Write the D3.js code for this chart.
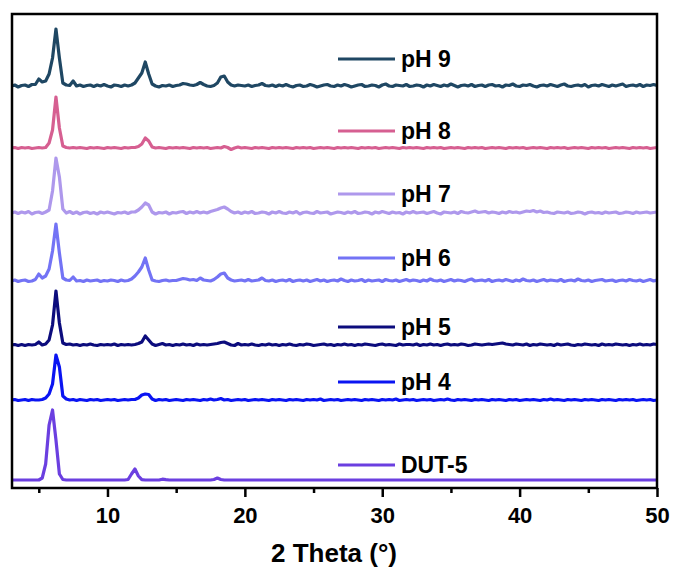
<!DOCTYPE html>
<html>
<head>
<meta charset="utf-8">
<script src="https://cdn.jsdelivr.net/npm/d3@7"></script>
<style>
  body { margin: 0; background: #fff; }
  text { font-family: "Liberation Sans", Arial, sans-serif; font-weight: 700; }
</style>
</head>
<body>
<div id="xrd-chart"></div>
<script>
// 2 theta grid of the patterns (degrees)
const thetaStart = 3;
const thetaStep = 0.25;

const seriesNames = ["pH 9", "pH 8", "pH 7", "pH 6", "pH 5", "pH 4", "DUT-5"];
const seriesColors = ["#1f4763", "#d65f91", "#ae98ec", "#7373f5", "#0c0c7d", "#0a14f2", "#6b3fe0"];
// vertical stacking offset of every pattern (a.u.)
const seriesOffsets = [402, 340, 275, 207, 143, 88, 8];

// intensities (a.u.), one value per 0.25 deg from 3 to 50
const ph9 = [
  0, 1, -1, 0.5, 1, -0.5, 1.5, 1.5, 7, 4, 5, 12, 28, 57, 28, 3, 1, 0.5, 5, 0,
  1, -0.5, 0.5, 1, -0.5, 1, 0, 1.5, 0, -1, 1, 0.5, -0.5, 1, 0, 1, 3, 8, 13, 24,
  12, 2, 0, -1, 0.5, 0, 1, -0.5, 0.5, 1, 2.5, 2, 1, 0.5, 1.5, 3.5, 1.5, 0, -0.5, 0.5,
  3, 9, 10, 4, 1, 0, 1, 0.5, 0, 1, -0.5, 0.5, 1, 2.5, 0.5, 0, 1, -0.5, 1, 0,
  1.5, 0, -1, 0.5, 1, -0.5, 0, 1.5, 0.5, -1, 0, 1, 1.5, 0, -0.5, 1, 0, 1.5, 0.5, -1,
  0, 1, 1.5, -0.5, 0, 1, 0.5, -1, 1, 2, 0, -0.5, 1, 0.5, 0, 1.5, -0.5, 0, 1, 0.5,
  -1, 1, 0, 1.5, 0.5, -0.5, 1, 0, 2, 0.5, -1, 0.5, 1, 0, 1.5, -0.5, 0.5, 1, -0.5, 1,
  1.5, 0, 0.5, -1, 1, 0.5, 2, 0, -0.5, 1, 0.5, 1.5, 0, -1, 0.5, 1, 0, 1.5, 0.5, -0.5,
  1, 2, 0, -0.5, 0.5, 1, 0, 1.5, -1, 0.5, 1, 0, 1.5, 0.5, -0.5, 1, 0, 1, 2, -0.5,
  0.5, 1, 0, 1.5, -0.5, 1, 0.5, 1.5, 0.5
];
const ph8 = [
  0, 0.5, -0.5, 0.5, 0, 0.5, -0.5, 0, 0.5, 0, 0.5, 5, 18, 51, 20, 2, 0.5, 0, 0.5, 0,
  0.5, 0, -0.5, 0.5, 0, 0.5, 0, -0.5, 0.5, 0, 0.5, 0, -0.5, 0.5, 0, 0.5, 0.5, 1.5, 4, 10,
  7, 1, 0, 0.5, 0, -0.5, 0.5, 0, 0.5, 0, 0.5, 0, -0.5, 0.5, 0, 0.5, 0, 0.5, -0.5, 0,
  0.5, 0, 1.5, 0.5, -1.5, 0, 1, 0, 0.5, 0, -0.5, 0.5, 0, 0.5, 0, -0.5, 0.5, 0, 0.5, 0,
  0.5, 0, -0.5, 0.5, 0, 0.5, 0, 0.5, -0.5, 0, 0.5, 0, 0.5, 0, -0.5, 0.5, 0, 0.5, 0, 0.5,
  0, -0.5, 0.5, 0, 0.5, 0, 0.5, -0.5, 0, 0.5, 0, 0.5, 0, -0.5, 0.5, 0, 0.5, 0, 0.5, 0,
  -0.5, 0.5, 0, 0.5, 0, 0.5, -0.5, 0, 0.5, 0, 0.5, 0, -0.5, 0.5, 0, 0.5, 0, 0.5, -0.5, 0,
  0.5, 0, 0.5, 0, -0.5, 0.5, 0, 0.5, 0, 0.5, -0.5, 0, 0.5, 0, 0.5, 0, -0.5, 0.5, 0, 0.5,
  0, 0.5, -0.5, 0, 0.5, 0, 0.5, 0, -0.5, 0.5, 0, 0.5, 0, 0.5, -0.5, 0, 0.5, 0, 0.5, 0,
  -0.5, 0.5, 0, 0.5, 0, 0.5, -0.5, 0, 0.5
];
const ph7 = [
  0, 1, -0.5, 1, 0, 1.5, -1, 0.5, 1, -0.5, 1, 3, 22, 55, 36, 4, 0, 1.5, -0.5, 1,
  -1, 0.5, 1, -0.5, 0.5, -1, 1, 0, 1, 0, -1, 0.5, 0, 1, -0.5, 1, 1, 3, 6, 10,
  8, 1, -1, 0.5, 0, 1, -1, 0.5, 0, 1, 1.5, -0.5, 1, 0, 1.5, 0, 1, 0, 1.5, 2.5,
  3.5, 5, 6, 4, 1.5, 0, 1, -0.5, 1, 0, 1.5, -0.5, 0, 1, 0.5, -1, 1, 0, 1.5, 0,
  -0.5, 1, 0, 1.5, -1, 0.5, 1, 0, -0.5, 1.5, 0, 0.5, 1, -1, 0, 1, 0.5, -0.5, 1, 0,
  1.5, -0.5, 0, 1, 0.5, -1, 1, 0, 1.5, 0.5, -0.5, 1, 0, 0.5, -1, 1, 0, 1.5, 0, 0.5,
  1, -0.5, 0.5, 1.5, 0, -1, 1, 0.5, 0, 1, -0.5, 1.5, 0.5, 0, 1, 2, 0.5, 1, 1.5, 0,
  1, 0.5, -0.5, 1, 0, 1.5, 0.5, 1, 0, 1, 2, 1.5, 2.5, 1, 2, 0.5, 1, 0, -0.5, 1,
  0.5, 0, 1, -0.5, 0, 1, 0.5, -1, 0.5, 1, 0, 0.5, -0.5, 1, 0, 0.5, 1, -0.5, 0, 1,
  0.5, -0.5, 1, 0, 0.5, 1, 0, 0.5, 1
];
const ph6 = [
  0, 1, -0.5, 0.5, 1, -0.5, 0, 1.5, 7, 3, 5, 12, 30, 57, 28, 3, 1, 0.5, 4, 0,
  0.5, -0.5, 1, 0, 0.5, 1, -0.5, 0.5, 0, 1, 0.5, -0.5, 1, 0, 0.5, 2, 5, 9, 14, 23,
  11, 1, 0, -0.5, 0.5, 1, 0, 0.5, 0.5, 1.5, 2.5, 2, 1, 1.5, 0.5, 3, 1, 0.5, 0, 1.5,
  4, 7, 8, 3, 1, 0, 0.5, 1, 0, 1.5, 0, 0.5, 1, 3, 0.5, 0, 1, -0.5, 0.5, 1,
  0, 1.5, -0.5, 0.5, 1, 0, 1, -0.5, 0.5, 1.5, 0, 1, -0.5, 0.5, 1, 0, 2, 0.5, -0.5, 1,
  0, 0.5, 1.5, -0.5, 1, 0, 0.5, 1, -0.5, 1.5, 0.5, 0, 1, -0.5, 0.5, 1.5, 0, 1, 0.5, -0.5,
  1, 0, 2, 0.5, 0, 1, -0.5, 0.5, 1.5, 0, 1, 0.5, -0.5, 1, 2, 0, 0.5, 1, 0, 1.5,
  -0.5, 0.5, 1, 0, 1.5, 0.5, -0.5, 1, 0, 2, 0.5, 0, 1, -0.5, 0.5, 1.5, 0, 1, 0.5, 0,
  1.5, -0.5, 0.5, 1, 0, 2, 0.5, 0, 1, -0.5, 0.5, 1, 1.5, 0, 0.5, 1, -0.5, 0.5, 1, 0,
  1.5, 0.5, 0, 1, -0.5, 0.5, 1.5, 0, 1
];
const ph5 = [
  0, 0.5, -0.5, 0.5, -0.5, 0.5, 0, 0.5, 3, 0, 1, 5, 20, 54, 22, 2, 0.5, 1, 0, 0.5,
  -0.5, 0.5, 0, 1, 0, -0.5, 0.5, 0, 0.5, 0, 1, -0.5, 0.5, 0, 0.5, 0, 0.5, 1.5, 3, 9,
  5, 1, -0.5, 0.5, 1.5, 0, 0.5, -0.5, 0.5, 0, 1, 0, 0.5, -0.5, 1, 0, 0.5, 0, 0.5, 1,
  1.5, 2.5, 3, 1.5, 0, -0.5, 1.5, 0, 0.5, 0, 1, 0, -0.5, 0.5, 0, 1, 0, 0.5, -0.5, 0.5,
  0, 1, 0, -0.5, 0.5, 0, 1, 0.5, -0.5, 0, 0.5, 1, 0, 0.5, -0.5, 0.5, 0, 1, 0, 0.5,
  -0.5, 0.5, 0, 1, 0.5, 0, -0.5, 0.5, 1, 0, 0.5, 0, -0.5, 1, 0, 0.5, 0.5, 0, 1, -0.5,
  0.5, 0, 1, 0, 0.5, -0.5, 0.5, 1, 0, 0.5, 0, 1, 0.5, -0.5, 0, 1, 0.5, 0, 0.5, 1,
  0.5, 1, 1.5, 2, 1, 0.5, 0, 1, 0.5, 0, 1, -0.5, 0.5, 0, 1, 0.5, 0, 0.5, -0.5, 1,
  0, 0.5, 1, 0, -0.5, 0.5, 0, 1, 0.5, 0, 0.5, -0.5, 1, 0, 0.5, 0, 1, 0.5, 0, 0.5,
  -0.5, 0.5, 0, 1, 0, 0.5, 0, 1, 0.5
];
const ph4 = [
  0, 0.5, -0.5, 0, 0.5, -0.5, 0.5, 0, 0, 0.5, 2, 6, 16, 45, 33, 4, 1, 0, 0.5, -0.5,
  0.5, 0, -0.5, 0.5, 0, 0.5, -0.5, 0, 0.5, 0, 0.5, -0.5, 0, 0.5, 0, 0.5, 0.5, 2, 5, 6,
  5.5, 1, -0.5, 0.5, 0, 0.5, -0.5, 0, 0.5, 0, -0.5, 0.5, 0, 0.5, 0, -0.5, 0.5, 0, 1, 0,
  0.5, 1.5, 0, 0.5, -0.5, 0, 0.5, 0, 0.5, -0.5, 0, 0.5, 0, 0.5, 0, -0.5, 0.5, 0, 0.5, 0,
  -0.5, 0.5, 0, 0.5, 0, -0.5, 0.5, 0, 0.5, 0, 1, -0.5, 0, 0.5, 0, 0.5, -0.5, 0, 0.5, 0,
  0.5, 0, -0.5, 0.5, 0, 0.5, 0, -0.5, 0.5, 0, 0.5, 0, 1, -0.5, 0, 0.5, 0, 0.5, -0.5, 0,
  0.5, 0, 0.5, -0.5, 0, 0.5, 0, 1, 0, -0.5, 0.5, 0, 0.5, 0, -0.5, 0.5, 0, 0.5, 0, -0.5,
  0.5, 0, 0.5, 0, -0.5, 0.5, 0, 0.5, -0.5, 0, 0.5, 0, 0.5, 0, -0.5, 0.5, 0, 1, 0, 0.5,
  0, -0.5, 0.5, 0, 0.5, 0, -0.5, 0.5, 0, 0.5, 0, -0.5, 0.5, 0, 0.5, 0, -0.5, 0.5, 0, 0.5,
  0, 0.5, -0.5, 0, 0.5, 0, 0.5, -0.5, 0
];
const dut5 = [
  0, 0, 0, 0, 0, 0, 0, 0, 0, 2, 16, 55, 70, 40, 6, 0.5, 0, 0, 0, 0,
  0, 0, 0, 0, 0, 0, 0, 0, 0, 0, 0, 0, 0, 0, 0.5, 6, 11, 4, 0.3, 0,
  0, 0, 0, 0, 0.8, 0.3, 0, 0, 0, 0, 0, 0, 0, 0, 0, 0, 0, 0, 0, 0.5,
  2, 0.5, 0, 0, 0, 0, 0, 0, 0, 0, 0, 0, 0, 0, 0, 0, 0, 0, 0, 0,
  0, 0, 0, 0, 0, 0, 0, 0, 0, 0, 0, 0, 0, 0, 0, 0, 0, 0, 0, 0,
  0, 0, 0, 0, 0, 0, 0, 0, 0, 0, 0, 0, 0, 0, 0, 0, 0, 0, 0, 0,
  0, 0, 0, 0, 0, 0, 0, 0, 0, 0, 0, 0, 0, 0, 0, 0, 0, 0, 0, 0,
  0, 0, 0, 0, 0, 0, 0, 0, 0, 0, 0, 0, 0, 0, 0, 0, 0, 0, 0, 0,
  0, 0, 0, 0, 0, 0, 0, 0, 0, 0, 0, 0, 0, 0, 0, 0, 0, 0, 0, 0,
  0, 0, 0, 0, 0, 0, 0, 0, 0
];
const seriesValues = [ph9, ph8, ph7, ph6, ph5, ph4, dut5];

const majorTicks = [10, 20, 30, 40, 50];
const minorTicks = [5, 15, 25, 35, 45];
const xTitle = "2 Theta (°)";

// ---- layout ----
const width = 676;
const height = 572;
const plot = { left: 12, right: 657, top: 14, bottom: 488 };
// legend line heights, placed next to each pattern
const legendY = [59, 131, 194, 258, 327, 382, 465];

const svg = d3
  .select("#xrd-chart")
  .append("svg")
  .attr("width", width)
  .attr("height", height)
  .attr("viewBox", [0, 0, width, height]);

const x = d3.scaleLinear().domain([3.05, 50]).range([plot.left, plot.right]);
const y = d3
  .scaleLinear()
  .domain([0, plot.bottom - plot.top])
  .range([plot.bottom, plot.top]);

svg
  .append("clipPath")
  .attr("id", "plot-clip")
  .append("rect")
  .attr("x", plot.left)
  .attr("y", plot.top)
  .attr("width", plot.right - plot.left)
  .attr("height", plot.bottom - plot.top);

const line = d3
  .line()
  .x((d) => x(d.theta))
  .y((d) => y(d.value));

const traces = svg.append("g").attr("clip-path", "url(#plot-clip)");

seriesValues.forEach((values, i) => {
  const points = values.map((v, j) => ({
    theta: thetaStart + j * thetaStep,
    value: v + seriesOffsets[i],
  }));
  traces
    .append("path")
    .datum(points)
    .attr("fill", "none")
    .attr("stroke", seriesColors[i])
    .attr("stroke-width", 3.2)
    .attr("stroke-linejoin", "round")
    .attr("d", line);
});

// frame
svg
  .append("rect")
  .attr("x", plot.left)
  .attr("y", plot.top)
  .attr("width", plot.right - plot.left)
  .attr("height", plot.bottom - plot.top)
  .attr("fill", "none")
  .attr("stroke", "#000")
  .attr("stroke-width", 2.5);

// bottom axis
const xAxis = svg
  .append("g")
  .attr("transform", `translate(0, ${plot.bottom})`)
  .call(
    d3.axisBottom(x).tickValues(majorTicks).tickSize(9).tickPadding(10).tickFormat(d3.format("d"))
  );
xAxis.select(".domain").remove();
xAxis.selectAll(".tick line").attr("stroke", "#000").attr("stroke-width", 2.5);
xAxis
  .selectAll(".tick text")
  .attr("fill", "#000")
  .style("font-size", "22px")
  .style("font-family", '"Liberation Sans", Arial, sans-serif')
  .style("font-weight", 700);

const xMinor = svg
  .append("g")
  .attr("transform", `translate(0, ${plot.bottom})`)
  .call(d3.axisBottom(x).tickValues(minorTicks).tickSize(5).tickFormat(""));
xMinor.select(".domain").remove();
xMinor.selectAll(".tick line").attr("stroke", "#000").attr("stroke-width", 2.5);

svg
  .append("text")
  .text(xTitle)
  .attr("x", 334)
  .attr("y", 562)
  .attr("text-anchor", "middle")
  .attr("font-size", 26);

// legend
const legend = svg.append("g");
seriesNames.forEach((name, i) => {
  legend
    .append("line")
    .attr("x1", 338)
    .attr("x2", 395)
    .attr("y1", legendY[i])
    .attr("y2", legendY[i])
    .attr("stroke", seriesColors[i])
    .attr("stroke-width", 3);
  legend
    .append("text")
    .text(name)
    .attr("x", 401)
    .attr("y", legendY[i] + 8)
    .attr("font-size", 23);
});
</script>
</body>
</html>
